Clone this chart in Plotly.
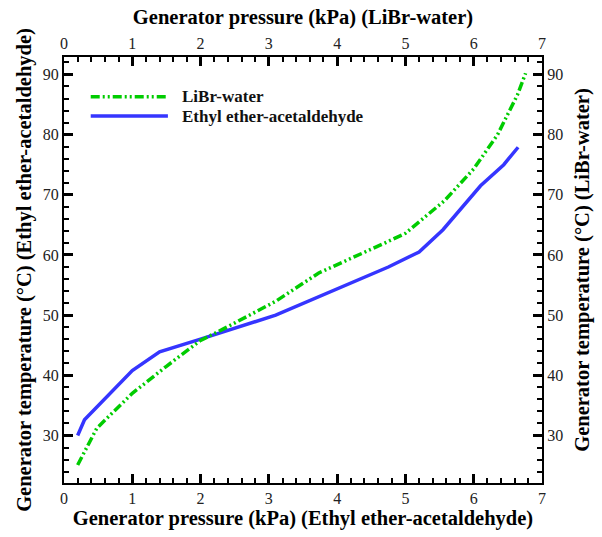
import plotly.graph_objects as go

# Ethyl ether-acetaldehyde (bottom/left axes)
ee_pressure = [0.2, 0.3, 1.0, 1.4, 2.0, 3.1, 4.75, 5.2, 5.55, 5.8, 6.1, 6.44, 6.65]
ee_temp = [30.0, 32.6, 40.8, 43.9, 46.0, 50.0, 58.0, 60.5, 64.2, 67.6, 71.5, 75.0, 77.9]

# LiBr-water (top/right axes)
lb_pressure = [0.2, 0.48, 1.0, 1.5, 2.0, 2.3, 3.1, 3.73, 4.72, 5.0, 5.57, 6.0, 6.35, 6.64, 6.76]
lb_temp = [25.1, 31.2, 37.0, 41.5, 45.8, 47.5, 52.3, 57.0, 62.1, 63.6, 69.0, 74.3, 80.0, 86.6, 90.2]

series_names = ["LiBr-water", "Ethyl ether-acetaldehyde"]

x_range = [0, 7]
y_range = [22.1, 92.9]

FONT = "Liberation Serif"
GREEN = "#00cc00"
BLUE = "#3535ff"
GREEN_DASH = "9px,3px,2px,3px,2px,3px"

fig = go.Figure()
fig.add_trace(go.Scatter(
    x=lb_pressure, y=lb_temp, mode="lines", name=series_names[0],
    line=dict(color=GREEN, width=3.5, dash=GREEN_DASH),
    xaxis="x2", yaxis="y2"))
fig.add_trace(go.Scatter(
    x=ee_pressure, y=ee_temp, mode="lines", name=series_names[1],
    line=dict(color=BLUE, width=3.5)))

TC = "black"
common_ax = dict(
    showline=True, linecolor="black", linewidth=2, ticks="inside", ticklen=9,
    tickwidth=2.5, tickcolor=TC, showgrid=False, zeroline=False,
    tickfont=dict(family=FONT, size=16, color="#222"),
)
title_font = dict(family=FONT, size=20.5, color="black", weight="bold")

fig.update_layout(
    width=602, height=537,
    margin=dict(l=64, r=55, t=57, b=40),
    plot_bgcolor="white", paper_bgcolor="white",
    showlegend=False,
    xaxis=dict(range=x_range, dtick=1, side="bottom",
               minor=dict(dtick=0.2, ticks="inside", ticklen=5, tickwidth=1.5, tickcolor=TC),
               title=dict(text="Generator pressure (kPa) (Ethyl ether-acetaldehyde)",
                          font=title_font, standoff=3),
               **common_ax),
    xaxis2=dict(range=x_range, dtick=1, side="top", overlaying="x", anchor="y",
                minor=dict(dtick=0.2, ticks="inside", ticklen=5, tickwidth=1.5, tickcolor=TC),
                title=dict(text="Generator pressure (kPa) (LiBr-water)",
                           font=title_font, standoff=4),
                **common_ax),
    yaxis=dict(range=y_range, dtick=10, side="left",
               minor=dict(dtick=2, ticks="inside", ticklen=5, tickwidth=1.5, tickcolor=TC),
               title=dict(text="Generator temperature (°C) (Ethyl ether-acetaldehyde)",
                          font=title_font, standoff=6),
               **common_ax),
    yaxis2=dict(range=y_range, dtick=10, side="right", overlaying="y", anchor="x",
                minor=dict(dtick=2, ticks="inside", ticklen=5, tickwidth=1.5, tickcolor=TC),
                title=dict(text="Generator temperature (°C) (LiBr-water)",
                           font=title_font, standoff=12),
                **common_ax),
)

# Legend drawn inside the plot area (paper coordinates of the plot box)
plot_l, plot_r, plot_t, plot_b = 64, 547, 57, 497

legend_rows = [(98, GREEN, GREEN_DASH), (118, BLUE, "solid")]
for name, (ry, col, dash) in zip(series_names, legend_rows):
    fig.add_shape(type="line", xref="paper", yref="paper",
                  x0=(91 - plot_l) / (plot_r - plot_l), x1=(169 - plot_l) / (plot_r - plot_l),
                  y0=(plot_b - ry) / (plot_b - plot_t), y1=(plot_b - ry) / (plot_b - plot_t),
                  line=dict(color=col, width=3.5, dash=dash))
    fig.add_annotation(text=name, xref="paper", yref="paper",
                       x=(181 - plot_l) / (plot_r - plot_l), y=(plot_b - ry) / (plot_b - plot_t),
                       xanchor="left", yanchor="middle", showarrow=False,
                       font=dict(family=FONT, size=17, color="#111", weight="bold"))

fig.write_html("out.html")
